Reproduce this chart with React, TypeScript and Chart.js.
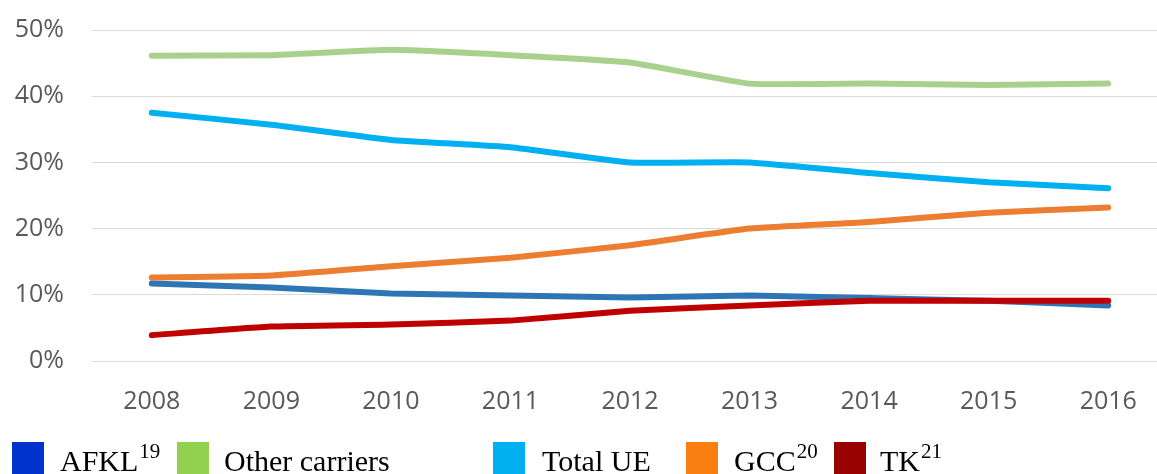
import React, { useEffect, useRef } from "react";
import { Chart, registerables } from "chart.js";

Chart.register(...registerables);

const years = ["2008", "2009", "2010", "2011", "2012", "2013", "2014", "2015", "2016"];
const otherCarriers = [46.1, 46.2, 47.0, 46.2, 45.1, 41.9, 41.9, 41.7, 41.9];
const totalUE = [37.5, 35.7, 33.4, 32.3, 30.0, 30.0, 28.4, 27.0, 26.1];
const gcc = [12.6, 12.9, 14.3, 15.6, 17.5, 20.0, 21.0, 22.4, 23.2];
const afkl = [11.7, 11.1, 10.2, 9.9, 9.6, 9.9, 9.5, 9.1, 8.4];
const tk = [3.9, 5.2, 5.5, 6.1, 7.6, 8.4, 9.1, 9.1, 9.1];
const yTicks = [0, 10, 20, 30, 40, 50];

const legendItems = [
  { label: "AFKL", sup: "19", color: "#0033CC", box: 12, text: 60 },
  { label: "Other carriers", sup: "", color: "#92D050", box: 177, text: 224 },
  { label: "Total UE", sup: "", color: "#00B0F0", box: 493, text: 542 },
  { label: "GCC", sup: "20", color: "#F98010", box: 686, text: 734 },
  { label: "TK", sup: "21", color: "#990000", box: 834, text: 880 },
];

export default function App() {
  const ref = useRef<HTMLCanvasElement | null>(null);

  useEffect(() => {
    if (!ref.current) return;
    const line = (label: string, data: number[], color: string) => ({
      label,
      data,
      borderColor: color,
      backgroundColor: color,
      borderWidth: 6,
      borderCapStyle: "round" as const,
      borderJoinStyle: "round" as const,
      pointRadius: 0,
      tension: 0.12,
      fill: false,
    });
    const chart = new Chart(ref.current, {
      type: "line",
      data: {
        labels: years,
        datasets: [
          line("TK", tk, "#C00000"),
          line("AFKL", afkl, "#2E75B6"),
          line("GCC", gcc, "#ED7D31"),
          line("Total UE", totalUE, "#00B0F0"),
          line("Other carriers", otherCarriers, "#A9D18E"),
        ],
      },
      options: {
        responsive: false,
        animation: false,
        layout: { padding: { top: 16, right: 0, left: 0, bottom: 0 } },
        plugins: { legend: { display: false }, tooltip: { enabled: false } },
        scales: {
          x: {
            offset: true,
            grid: { display: false, drawTicks: false },
            border: { display: false },
            ticks: {
              color: "#595959",
              font: { family: "'Open Sans', 'Liberation Sans', sans-serif", size: 25 },
              padding: 26,
              maxRotation: 0,
            },
            afterFit: (s: any) => {
              s.height = 79;
            },
          },
          y: {
            min: 0,
            max: 50,
            afterBuildTicks: (s: any) => {
              s.ticks = yTicks.map((v) => ({ value: v }));
            },
            grid: { color: "#D9D9D9", lineWidth: 1, drawTicks: false },
            border: { display: false },
            ticks: {
              color: "#595959",
              font: { family: "'Open Sans', 'Liberation Sans', sans-serif", size: 25 },
              padding: 28,
              callback: (v: any) => v + "%",
            },
            afterFit: (s: any) => {
              s.width = 92;
            },
          },
        },
      },
    });
    return () => chart.destroy();
  }, []);

  return (
    <div
      style={{
        position: "fixed",
        left: 0,
        top: 0,
        width: 1157,
        height: 474,
        overflow: "hidden",
        background: "#fff",
      }}
    >
      <canvas ref={ref} width={1168} height={453} style={{ position: "absolute", left: 0, top: -13 }} />
      {legendItems.map((it) => (
        <React.Fragment key={it.label}>
          <div
            style={{
              position: "absolute",
              left: it.box,
              top: 442,
              width: 32,
              height: 32,
              background: it.color,
            }}
          />
          <div
            style={{
              position: "absolute",
              left: it.text,
              top: 446,
              fontFamily: "'Liberation Serif', 'Times New Roman', serif",
              fontSize: 30,
              lineHeight: "30px",
              color: "#000",
              whiteSpace: "nowrap",
            }}
          >
            {it.label}
            {it.sup && (
              <span style={{ fontSize: 21, position: "relative", top: -13, marginLeft: 1 }}>{it.sup}</span>
            )}
          </div>
        </React.Fragment>
      ))}
    </div>
  );
}
